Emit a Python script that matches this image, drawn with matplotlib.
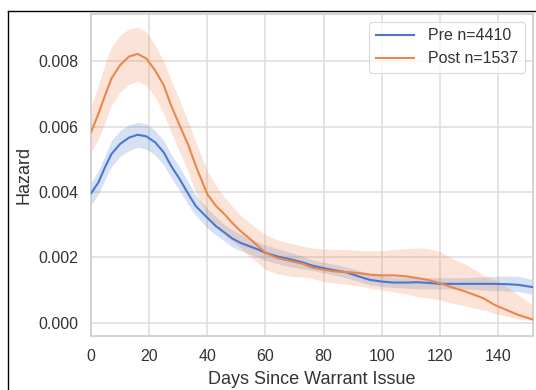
import matplotlib
matplotlib.use("Agg")
import matplotlib.pyplot as plt
from matplotlib.lines import Line2D
import numpy as np

# ---- data (hazard values in units of 1e-3) ----
days = [0, 2.5, 5, 7, 10, 13, 16, 19, 22, 25, 27.5, 30.5, 33.5, 36, 40, 43, 46, 48.5,
        51.5, 54.5, 57.5, 60, 64, 69, 73, 76, 80, 84, 88, 92, 96, 100, 104, 108.5,
        112, 116, 120, 124, 129, 132, 135, 139, 143, 147, 152]

pre_hazard = [3.96, 4.29, 4.80, 5.16, 5.47, 5.66, 5.75, 5.70, 5.52, 5.21, 4.80, 4.39,
              3.93, 3.57, 3.21, 2.95, 2.75, 2.58, 2.44, 2.34, 2.24, 2.14, 2.03, 1.93,
              1.84, 1.75, 1.67, 1.60, 1.54, 1.42, 1.31, 1.26, 1.23, 1.23, 1.24, 1.22,
              1.19, 1.19, 1.19, 1.19, 1.19, 1.19, 1.18, 1.16, 1.09]
pre_upper = [4.29, 4.65, 5.16, 5.57, 5.88, 6.05, 6.13, 6.08, 5.88, 5.57, 5.16, 4.75,
             4.29, 3.90, 3.50, 3.24, 3.00, 2.85, 2.70, 2.58, 2.47, 2.37, 2.27, 2.14,
             2.03, 1.93, 1.85, 1.78, 1.70, 1.60, 1.50, 1.44, 1.40, 1.39, 1.38, 1.38,
             1.38, 1.38, 1.38, 1.39, 1.40, 1.42, 1.43, 1.42, 1.32]
pre_lower = [3.62, 3.93, 4.41, 4.78, 5.09, 5.26, 5.37, 5.31, 5.13, 4.82, 4.44, 4.03,
             3.60, 3.28, 2.90, 2.68, 2.49, 2.32, 2.20, 2.10, 2.00, 1.91, 1.81, 1.70,
             1.65, 1.60, 1.52, 1.45, 1.37, 1.26, 1.16, 1.11, 1.08, 1.06, 1.04, 1.04,
             1.04, 1.03, 1.03, 1.02, 1.00, 0.98, 0.97, 0.95, 0.88]

post_hazard = [5.83, 6.39, 7.00, 7.47, 7.88, 8.14, 8.22, 8.08, 7.72, 7.26, 6.65, 6.03,
               5.42, 4.80, 3.93, 3.57, 3.31, 3.06, 2.80, 2.58, 2.34, 2.14, 1.98, 1.88,
               1.80, 1.69, 1.62, 1.57, 1.55, 1.52, 1.47, 1.45, 1.45, 1.42, 1.37, 1.31,
               1.21, 1.09, 0.95, 0.85, 0.75, 0.54, 0.39, 0.24, 0.10]
post_upper = [6.60, 7.26, 7.98, 8.44, 8.80, 8.98, 9.04, 8.90, 8.49, 7.98, 7.42, 6.80,
              6.13, 5.52, 4.65, 4.18, 3.83, 3.57, 3.28, 3.06, 2.85, 2.70, 2.54, 2.42,
              2.34, 2.29, 2.26, 2.24, 2.24, 2.22, 2.20, 2.20, 2.24, 2.27, 2.29, 2.27,
              2.18, 1.98, 1.78, 1.62, 1.47, 1.31, 1.11, 0.85, 0.54]
post_lower = [5.21, 5.62, 6.18, 6.65, 7.06, 7.28, 7.38, 7.26, 6.90, 6.39, 5.83, 5.21,
              4.60, 3.98, 3.26, 2.95, 2.70, 2.49, 2.29, 2.03, 1.83, 1.62, 1.50, 1.42,
              1.40, 1.36, 1.26, 1.21, 1.18, 1.13, 1.06, 1.00, 0.95, 0.88, 0.80, 0.76,
              0.70, 0.60, 0.51, 0.45, 0.39, 0.28, 0.20, 0.12, 0.06]

labels = ["Pre n=4410", "Post n=1537"]
x_ticks = [0, 20, 40, 60, 80, 100, 120, 140]
y_ticks = [0.000, 0.002, 0.004, 0.006, 0.008]

# ---- style ----
plt.rcParams['font.family'] = ['Liberation Sans', 'DejaVu Sans']
blue = '#4878d0'
orange = '#ee854a'
text_c = '#333333'

fig = plt.figure(figsize=(5.36, 3.90), dpi=100)
fig.patch.set_facecolor('white')
ax = fig.add_axes([0.170, 0.138, 0.824, 0.826])

scale = 1e-3
x = np.array(days)
series = [
    (pre_hazard, pre_lower, pre_upper, blue),
    (post_hazard, post_lower, post_upper, orange),
]
handles = []
for (h, lo, up, c), lab in zip(series, labels):
    ax.fill_between(x, np.array(lo) * scale, np.array(up) * scale,
                    color=c, alpha=0.22, linewidth=0, zorder=2)
    ln, = ax.plot(x, np.array(h) * scale, color=c, lw=1.5, zorder=3, label=lab)
    handles.append(ln)

ax.set_xlim(0, 152)
ax.set_ylim(-0.00041, 0.00944)
ax.set_xticks(x_ticks)
ax.set_yticks(y_ticks)
ax.set_yticklabels([f"{v:.3f}" for v in y_ticks])

ax.grid(True, color='#dcdcdc', lw=1.1, zorder=0)
ax.set_axisbelow(True)
for s in ax.spines.values():
    s.set_color('#cccccc')
    s.set_linewidth(1.2)
ax.tick_params(length=0, pad=9, labelsize=11.5, colors=text_c)

ax.set_xlabel("Days Since Warrant Issue", fontsize=13, color=text_c, labelpad=5)
ax.set_ylabel("Hazard", fontsize=13, color=text_c, labelpad=4)

leg = ax.legend(handles=handles, loc='upper right', fontsize=11.5, frameon=True,
                borderaxespad=0.5, handlelength=2.4, handletextpad=0.9)
leg.get_frame().set_edgecolor('#d0d0d0')
leg.get_frame().set_linewidth(0.8)
for t in leg.get_texts():
    t.set_color(text_c)

# outer black frame (screenshot border)
fig.add_artist(Line2D([7.5 / 536, 1.0], [1 - 10.5 / 390, 1 - 10.5 / 390],
                      transform=fig.transFigure, color='black', lw=1.0))
fig.add_artist(Line2D([7.5 / 536, 7.5 / 536], [0.0, 1 - 10.5 / 390],
                      transform=fig.transFigure, color='black', lw=1.0))

fig.savefig("out.png", dpi=100, facecolor='white')
